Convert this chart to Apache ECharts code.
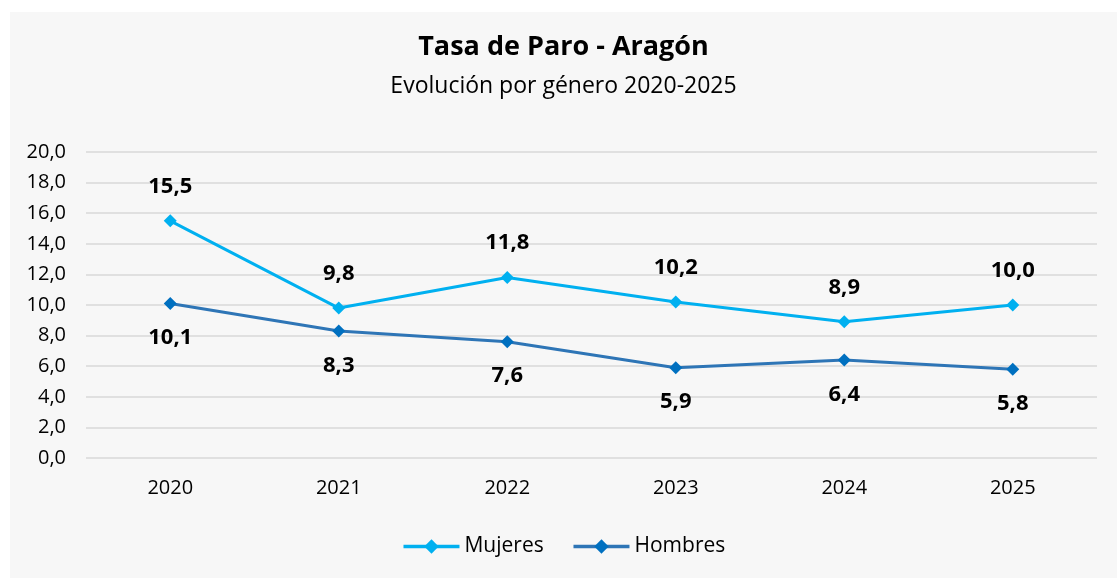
<!DOCTYPE html>
<html>
<head>
<meta charset="utf-8">
<script src="https://cdn.jsdelivr.net/npm/echarts@6/dist/echarts.min.js"></script>
<style>
  html, body { margin: 0; padding: 0; background: #ffffff; }
  #chart { position: absolute; left: 10px; top: 12px; width: 1107px; height: 566px; background: #f7f7f7; }
</style>
</head>
<body>
<div id="chart"></div>
<script>
// datos
const years = ['2020', '2021', '2022', '2023', '2024', '2025'];
const mujeres = [15.5, 9.8, 11.8, 10.2, 8.9, 10.0];
const hombres = [10.1, 8.3, 7.6, 5.9, 6.4, 5.8];

const fontFamily = '"Open Sans", "Noto Sans", sans-serif';
const fmt = (v) => v.toFixed(1).replace('.', ',');

const chart = echarts.init(document.getElementById('chart'));

chart.setOption({
  backgroundColor: '#f7f7f7',
  textStyle: { fontFamily: fontFamily },
  title: {
    text: 'Tasa de Paro - Aragón',
    subtext: 'Evolución por género 2020-2025',
    left: 'center',
    top: 17,
    itemGap: 14,
    textStyle: { fontSize: 27, fontWeight: 'bold', color: '#000', fontFamily: fontFamily },
    subtextStyle: { fontSize: 23, color: '#000', fontFamily: fontFamily }
  },
  legend: {
    bottom: 16,
    left: 'center',
    itemWidth: 56,
    itemHeight: 18,
    itemGap: 28,
    textStyle: { fontSize: 21, color: '#000', fontFamily: fontFamily },
    data: [
      { name: 'Mujeres', lineStyle: { width: 3.5, color: '#00b0f0' } },
      { name: 'Hombres', lineStyle: { width: 3.5, color: '#2e75b6' } }
    ]
  },
  grid: { left: 76, right: 20, top: 140, bottom: 120 },
  xAxis: {
    type: 'category',
    data: years,
    axisLine: { show: false },
    axisTick: { show: false },
    axisLabel: { fontSize: 20, color: '#000', margin: 20 }
  },
  yAxis: {
    type: 'value',
    min: 0,
    max: 20,
    interval: 2,
    axisLine: { show: false },
    axisTick: { show: false },
    axisLabel: { fontSize: 20, color: '#000', margin: 20, formatter: (v) => fmt(v) },
    splitLine: { lineStyle: { color: '#d9d9d9', width: 1.5 } }
  },
  series: [
    {
      name: 'Mujeres',
      type: 'line',
      data: mujeres,
      symbol: 'diamond',
      symbolSize: 13,
      color: '#00b0f0',
      lineStyle: { width: 3, color: '#00b0f0' },
      itemStyle: { color: '#00b0f0' },
      label: {
        show: true,
        position: 'top',
        distance: 17,
        fontSize: 22,
        fontWeight: 'bold',
        color: '#000',
        formatter: (p) => fmt(p.value)
      }
    },
    {
      name: 'Hombres',
      type: 'line',
      data: hombres,
      symbol: 'diamond',
      symbolSize: 13,
      color: '#0070c0',
      lineStyle: { width: 3, color: '#2e75b6' },
      itemStyle: { color: '#0070c0' },
      label: {
        show: true,
        position: 'bottom',
        distance: 17,
        fontSize: 22,
        fontWeight: 'bold',
        color: '#000',
        formatter: (p) => fmt(p.value)
      }
    }
  ]
});
</script>
</body>
</html>
